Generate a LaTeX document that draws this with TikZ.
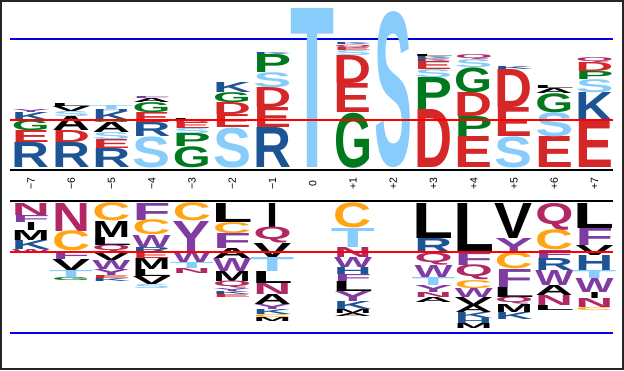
\documentclass[tikz,border=0pt]{standalone}
\usepackage{fontspec}
\setmainfont{Liberation Sans}
\usepackage{graphicx}
\usepackage{xcolor}
\usepackage{tikz}

\definecolor{aablue}{RGB}{28,84,148}
\definecolor{aared}{RGB}{214,39,40}
\definecolor{aagreen}{RGB}{0,120,30}
\definecolor{aasky}{RGB}{135,204,250}
\definecolor{aapurple}{RGB}{128,60,160}
\definecolor{aapink}{RGB}{178,40,100}
\definecolor{aaorange}{RGB}{255,165,20}
\colorlet{lR}{aablue}\colorlet{lK}{aablue}\colorlet{lH}{aablue}
\colorlet{lD}{aared}\colorlet{lE}{aared}
\colorlet{lG}{aagreen}\colorlet{lP}{aagreen}
\colorlet{lS}{aasky}\colorlet{lT}{aasky}
\colorlet{lA}{black}\colorlet{lI}{black}\colorlet{lL}{black}
\colorlet{lM}{black}\colorlet{lV}{black}
\colorlet{lF}{aapurple}\colorlet{lW}{aapurple}\colorlet{lY}{aapurple}
\colorlet{lN}{aapink}\colorlet{lQ}{aapink}
\colorlet{lC}{aaorange}

\newcommand{\letterwd}[1]{\if I#1 12pt\else\if T#1 44pt\else\if L#1 41pt\else 38pt\fi\fi\fi}
\newcommand{\upstack}[2]{%
  \xdef\ybot{168}%
  \foreach \l/\h [count=\k] in {#2}{%
    \edef\lwd{\letterwd{\l}}%
    \node[upletter,text=l\l] (u#1-\k) at ({31+40.25*#1},\ybot) {\resizebox*{\lwd}{\h pt}{\l}};
    \pgfmathsetmacro\ynext{\ybot-\h}\xdef\ybot{\ynext}%
  }}
\newcommand{\downstack}[2]{%
  \xdef\ybot{203}%
  \foreach \l/\h [count=\k] in {#2}{%
    \edef\lwd{\letterwd{\l}}%
    \node[downletter,text=l\l] (d#1-\k) at ({31+40.25*#1},\ybot) {\resizebox*{\lwd}{\h pt}{\l}};
    \pgfmathsetmacro\ynext{\ybot+\h}\xdef\ybot{\ynext}%
  }}

\begin{document}
\begin{tikzpicture}[x=1pt,y=-1pt,
    upletter/.style={anchor=south,inner sep=0pt,font=\bfseries},
    downletter/.style={anchor=north,inner sep=0pt,font=\bfseries},
    poslabel/.style={rotate=90,inner sep=0pt,font=\fontsize{10.5}{12}\selectfont},
    bluecut/.style={draw=blue!90!black,line width=1.4pt},
    redcut/.style={draw=red,line width=1.4pt},
    axisline/.style={draw=black,line width=1.4pt}]
  \useasboundingbox (0,0) rectangle (624,370);
  \draw[black!85,line width=2pt] (1,1) rectangle (623,369);

  \coordinate (bt1) at (10,39);  \coordinate (bt2) at (613,39);
  \coordinate (bb1) at (10,333); \coordinate (bb2) at (613,333);
  \coordinate (rt1) at (10,120); \coordinate (rt2) at (613,120);
  \coordinate (rb1) at (10,252); \coordinate (rb2) at (613,252);
  \coordinate (at1) at (10,170); \coordinate (at2) at (613,170);
  \coordinate (ab1) at (10,201); \coordinate (ab2) at (613,201);

  \path[bluecut] (bt1) -- (bt2);
  \path[bluecut] (bb1) -- (bb2);
  \path[axisline] (at1) -- (at2);
  \path[axisline] (ab1) -- (ab2);

  \upstack{0}{R/25,E/12,G/10,K/8,Y/3}
  \upstack{1}{R/25,D/12,A/14,S/5,V/5,L/3}
  \upstack{2}{R/19,E/9,S/7,A/10,G/2,K/9,H/2,T/4}
  \upstack{3}{S/31,R/14,E/10,G/10,A/4,F/2}
  \upstack{4}{G/21,P/13,S/5,E/6,D/2,L/2}
  \upstack{5}{S/40,E/13,D/12,G/10,K/10}
  \upstack{6}{R/40,E/20,D/20,S/15,P/18,K/2}
  \upstack{7}{T/159}
  \upstack{8}{G/55,E/29,D/28,S/5,E/3,Q/3,K/2}
  \upstack{9}{S/156}
  \upstack{10}{D/58,P/32,S/8,E/8,K/2,E/1,K/2,L/2}
  \upstack{11}{E/31,P/20,D/24,G/25,S/8,Q/5}
  \upstack{12}{S/31,E/29,D/38,K/3}
  \upstack{13}{E/31,S/24,G/19,A/5,L/3}
  \upstack{14}{E/46,K/29,S/13,P/8,D/9,Q/5}

  \downstack{0}{N/12,F/7,I/8,M/10,K/9,W/4}
  \downstack{1}{N/28,C/20,F/8,V/11,T/7,G/3}
  \downstack{2}{C/18,M/16,L/8,Q/7,V/8,W/9,Y/6,E/3,K/3}
  \downstack{3}{F/17,C/15,W/12,R/5,E/6,M/11,L/7,V/8,S/4}
  \downstack{4}{C/18,Y/30,W/11,T/6,N/5}
  \downstack{5}{L/19,C/11,F/15,A/10,W/13,M/10,Q/7,Y/3,K/3,E/3}
  \downstack{6}{I/24,Q/16,V/14,T/14,L/12,N/11,A/10,Y/5,K/5,C/3,M/4}
  \downstack{8}{C/25,T/19,N/10,W/10,H/7,F/7,L/10,Y/10,K/8,M/4,A/3}
  \downstack{10}{L/35,R/15,Q/12,W/12,T/8,Y/7,N/5,A/5}
  \downstack{11}{L/49,F/13,Q/15,C/8,W/9,V/8,A/7,K/6,H/5,M/5}
  \downstack{12}{V/35,Y/15,C/16,F/18,L/10,Q/7,M/8,K/7}
  \downstack{13}{Q/27,C/20,F/8,R/12,W/15,A/10,N/10,L/5}
  \downstack{14}{L/25,F/17,V/10,H/15,T/8,W/14,I/6,N/9,C/3}

  \foreach \p [count=\i from 0] in {−7,−6,−5,−4,−3,−2,−1,0,+1,+2,+3,+4,+5,+6,+7}
    \node[poslabel] (pos\i) at ({31+40.25*\i},184) {\p};

  \path[redcut] (rt1) -- (rt2);
  \path[redcut] (rb1) -- (rb2);
\end{tikzpicture}
\end{document}
